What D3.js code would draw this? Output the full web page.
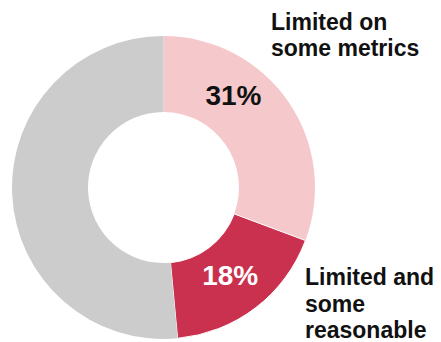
<!DOCTYPE html>
<html>
<head>
<meta charset="utf-8">
<script src="https://cdn.jsdelivr.net/npm/d3@7"></script>
<style>
  html, body { margin: 0; padding: 0; background: #fff; }
  svg { display: block; }
</style>
</head>
<body>
<svg id="chart" width="441" height="342"></svg>
<script>
// slices clockwise from 12 o'clock
const categories = ["Limited on some metrics", "Limited and some reasonable", "Other"]
const values = [31, 18, 52]
const valueLabels = ["31%", "18%", ""]
const colors = ["#f5c9cb", "#c9314f", "#cccccc"]

const width = 441
const height = 342
const cx = 163.5
const cy = 187.5
const outerR = 151.5
const innerR = 75.5

const svg = d3.select("#chart")
const g = svg.append("g").attr("transform", `translate(${cx},${cy})`)

const pie = d3.pie().sort(null).value(d => d)
const arc = d3.arc().innerRadius(innerR).outerRadius(outerR)
const arcs = pie(values)

g.selectAll("path")
    .data(arcs)
    .enter().append("path")
    .attr("d", arc)
    .attr("fill", (d, i) => colors[i])
    .attr("stroke", (d, i) => i == 1 ? "#fff" : "none")
    .attr("stroke-width", 1)

// value labels
const font = "'Liberation Sans', Arial, Helvetica, sans-serif"
const labelArc = d3.arc().innerRadius(113).outerRadius(113)

// 31% sits higher up in the pink slice
g.append("text")
    .attr("x", 70)
    .attr("y", -83)
    .attr("text-anchor", "middle")
    .style("font", `bold 28px ${font}`)
    .attr("fill", "#111")
    .text(valueLabels[0])

const c18 = labelArc.centroid(arcs[1])
g.append("text")
    .attr("x", c18[0] - 2)
    .attr("y", c18[1] + 8)
    .attr("text-anchor", "middle")
    .style("font", `bold 28px ${font}`)
    .attr("fill", "#fff")
    .text(valueLabels[1])

// category labels
const catLabels = [
    {lines: ["Limited on", "some metrics"], x: 271, y: 30, dy: 26},
    {lines: ["Limited and", "some", "reasonable"], x: 305, y: 285, dy: 26.5}
]

catLabels.forEach(l => {
    const t = svg.append("text")
        .attr("x", l.x)
        .attr("y", l.y)
        .style("font", `bold 23px ${font}`)
        .attr("fill", "#111")
    l.lines.forEach((s, i) => {
        t.append("tspan")
            .attr("x", l.x)
            .attr("y", l.y + i * l.dy)
            .text(s)
    })
})
</script>
</body>
</html>
